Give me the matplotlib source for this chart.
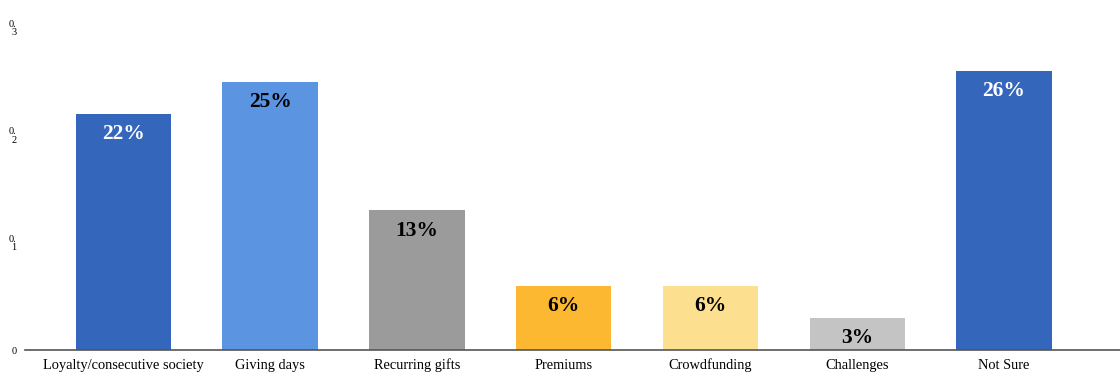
import matplotlib
matplotlib.use("Agg")
import matplotlib.pyplot as plt

categories = ["Loyalty/consecutive society", "Giving days", "Recurring gifts",
              "Premiums", "Crowdfunding", "Challenges", "Not Sure"]
values = [0.22, 0.25, 0.13, 0.06, 0.06, 0.03, 0.26]
labels = ["22%", "25%", "13%", "6%", "6%", "3%", "26%"]
colors = ["#3467BC", "#5B95E2", "#9B9B9B", "#FBB830", "#FDE08F", "#C4C4C4", "#3467BC"]
label_colors = ["white", "black", "black", "black", "black", "black", "white"]
yticks = [0, 0.1, 0.2, 0.3]
ytick_labels = ["0", "0.\n1", "0.\n2", "0.\n3"]

plt.rcParams['font.family'] = ['Liberation Serif', 'DejaVu Serif']

fig = plt.figure(figsize=(11.2, 3.9), dpi=100)
ax = fig.add_axes([25/1120, 1 - 350/390, 1 - 25/1120, (350 - 28)/390])

x = list(range(len(categories)))
ax.bar(x, values, width=0.65, color=colors)
for xi, v, lab, lc in zip(x, values, labels, label_colors):
    ax.annotate(lab, (xi, v), xytext=(0, -14.5), textcoords="offset points",
                ha="center", va="center", fontsize=15.5, fontweight="bold", color=lc)

ax.set_xlim(-0.67, 6.79)
ax.set_ylim(0, 0.3)
ax.set_yticks(yticks)
ax.set_yticklabels(ytick_labels, fontsize=7.5, linespacing=0.9)
ax.set_xticks(x)
ax.set_xticklabels(categories, fontsize=10.4, va="baseline")
ax.tick_params(axis="both", length=0)
ax.tick_params(axis="y", pad=6)
ax.tick_params(axis="x", pad=14)
for s in ["top", "right", "left"]:
    ax.spines[s].set_visible(False)
ax.spines["bottom"].set_color("#555555")
ax.spines["bottom"].set_linewidth(1.2)

fig.savefig("out.png", dpi=100)
